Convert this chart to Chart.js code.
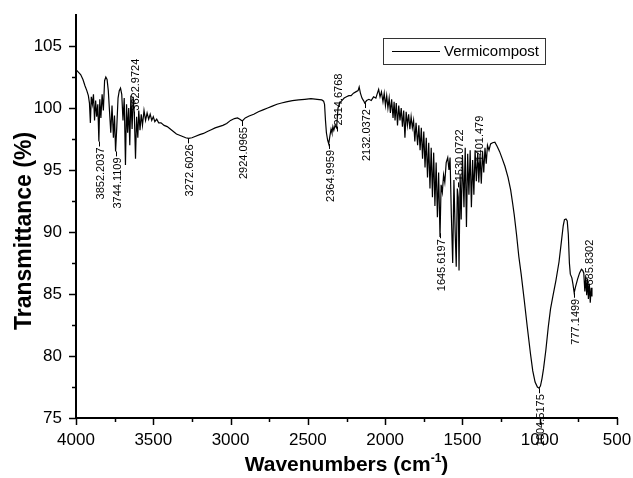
<!DOCTYPE html>
<html>
<head>
<meta charset="utf-8">
<script src="https://cdn.jsdelivr.net/npm/chart.js@4/dist/chart.umd.min.js"></script>
<style>
html, body { margin: 0; padding: 0; background: #fff; }
</style>
</head>
<body>
<canvas id="ftir_chart" width="633" height="478"></canvas>
<script>
// spectrum (wavenumber cm-1 / transmittance %)
const wavenumbers = [
    4000, 3985, 3970, 3955, 3942, 3930, 3920, 3913, 3907, 3901, 3894, 3887, 3880, 3873, 3866, 3859,
    3852, 3846, 3839, 3831, 3823, 3815, 3807, 3799, 3791, 3783, 3775, 3767, 3758, 3751, 3744, 3736,
    3728, 3720, 3712, 3704, 3696, 3688, 3680, 3673, 3666, 3659, 3652, 3645, 3637, 3630, 3623, 3615,
    3608, 3600, 3594, 3586, 3578, 3570, 3560, 3550, 3540, 3530, 3520, 3510, 3500, 3490, 3478, 3465,
    3450, 3430, 3410, 3390, 3370, 3350, 3330, 3310, 3290, 3272, 3250, 3230, 3200, 3175, 3150, 3125,
    3100, 3075, 3050, 3025, 3000, 2975, 2955, 2940, 2924, 2905, 2880, 2850, 2820, 2790, 2760, 2730,
    2700, 2670, 2640, 2600, 2560, 2520, 2480, 2440, 2410, 2398, 2392, 2386, 2380, 2372, 2365, 2358,
    2350, 2344, 2338, 2332, 2324, 2314, 2305, 2295, 2280, 2265, 2250, 2235, 2220, 2205, 2190, 2175,
    2168, 2160, 2150, 2140, 2132, 2120, 2105, 2090, 2075, 2060, 2050, 2042, 2033, 2024, 2014, 2006,
    1998, 1990, 1982, 1974, 1966, 1958, 1949, 1942, 1936, 1928, 1920, 1912, 1904, 1896, 1888, 1880,
    1872, 1864, 1856, 1848, 1840, 1832, 1824, 1816, 1808, 1800, 1790, 1782, 1774, 1766, 1758, 1750,
    1742, 1734, 1726, 1718, 1710, 1702, 1694, 1686, 1678, 1670, 1662, 1654, 1645, 1638, 1630, 1622,
    1614, 1605, 1595, 1587, 1580, 1572, 1563, 1555, 1547, 1540, 1533, 1527, 1522, 1515, 1508, 1500,
    1490, 1482, 1474, 1466, 1458, 1450, 1442, 1434, 1426, 1418, 1410, 1401, 1394, 1386, 1378, 1370,
    1362, 1354, 1346, 1338, 1328, 1318, 1305, 1290, 1275, 1260, 1245, 1225, 1205, 1188, 1175, 1165,
    1150, 1135, 1120, 1100, 1080, 1060, 1045, 1030, 1015, 1004, 995, 985, 975, 960, 945, 930,
    915, 895, 875, 860, 848, 840, 830, 822, 815, 808, 802, 792, 785, 777, 768, 755,
    742, 730, 722, 715, 708, 702, 696, 690, 685, 679, 673, 667, 662
];
const transmittance = [
    103.1, 102.9, 102.7, 102.3, 101.8, 101.4, 101.0, 100.4, 98.8, 100.9, 100.3, 101.1, 99.0, 100.6, 99.3, 100.3,
    97.3, 100.7, 99.2, 101.1, 99.8, 102.2, 102.5, 102.3, 101.4, 99.7, 98.0, 100.2, 97.6, 99.4, 96.5, 98.5,
    100.8, 101.4, 101.6, 101.1, 99.0, 100.8, 95.4, 100.3, 98.0, 100.0, 97.0, 101.0, 98.3, 100.9, 99.6, 95.9,
    99.3, 97.6, 99.8, 98.2, 99.5, 98.6, 99.8, 99.0, 99.6, 99.1, 99.5, 99.0, 99.3, 98.9, 99.1, 98.8,
    98.8, 98.6, 98.5, 98.3, 98.1, 97.9, 97.8, 97.7, 97.6, 97.55, 97.6, 97.7, 97.85, 97.95, 98.1, 98.25,
    98.4, 98.5, 98.6, 98.75, 99.0, 99.15, 99.2, 99.1, 98.95, 99.2, 99.35, 99.5, 99.7, 99.85, 100.0, 100.15,
    100.3, 100.4, 100.5, 100.6, 100.65, 100.7, 100.75, 100.7, 100.65, 100.55, 100.3, 99.0, 98.0, 97.4, 97.1, 97.7,
    98.3, 98.0, 98.5, 98.2, 98.6, 98.4, 100.0, 100.4, 100.6, 100.8, 100.9, 101.0, 101.0, 101.2, 101.3, 101.4,
    101.7, 101.2, 100.8, 100.6, 100.4, 100.6, 100.7, 100.6, 100.9, 100.8, 101.2, 101.5, 100.9, 101.3, 100.5, 101.2,
    100.2, 101.0, 100.0, 100.8, 99.6, 100.7, 99.2, 100.5, 99.0, 100.4, 98.6, 100.2, 99.0, 100.0, 98.5, 99.8,
    97.6, 99.7, 98.6, 99.5, 98.3, 99.3, 98.4, 99.0, 97.3, 98.8, 97.0, 98.6, 96.6, 98.4, 95.9, 98.1,
    95.2, 97.6, 94.4, 97.2, 93.5, 96.8, 92.8, 96.4, 92.1, 95.6, 91.2, 94.8, 89.6, 93.8, 93.2, 94.6,
    94.0, 95.6, 96.0, 95.0, 96.0, 91.5, 87.5, 94.2, 90.0, 87.2, 93.5, 92.8, 86.9, 94.7, 91.0, 96.2,
    92.0, 96.8, 90.4, 96.3, 93.0, 96.6, 92.0, 95.8, 93.0, 96.6, 94.1, 96.4, 94.0, 96.2, 93.9, 96.5,
    94.8, 96.8, 95.5, 97.0, 96.6, 97.1, 97.2, 97.25, 96.9, 96.5, 96.0, 95.3, 94.4, 93.4, 92.3, 91.4,
    89.8, 88.0, 86.6, 84.5, 82.3, 80.2, 78.8, 77.9, 77.5, 77.4, 77.6, 78.2, 79.0, 80.5, 82.3, 83.8,
    84.8, 86.1, 87.6, 89.2, 90.5, 91.0, 91.05, 90.9, 89.8, 87.5, 86.6, 86.3, 85.8, 85.1, 85.6, 86.2,
    86.7, 87.0, 86.9, 86.7, 85.2, 86.4, 84.9, 86.2, 84.6, 85.8, 84.3, 85.5, 84.8
];

// peak labels
const peakWavenumbers = [3852.2037, 3744.1109, 3622.9724, 3272.6026, 2924.0965, 2364.9959, 2314.6768,
    2132.0372, 1645.6197, 1530.0722, 1401.479, 1004.5175, 777.1499, 685.8302];
const peakValues = [97.3, 96.5, 99.3, 97.55, 98.95, 97.1, 98.1, 100.4, 89.9, 93.6, 95.2, 77.4, 85.1, 85.2];
const peakLabels = ['3852.2037', '3744.1109', '3622.9724', '3272.6026', '2924.0965', '2364.9959', '2314.6768',
    '2132.0372', '1645.6197', '1530.0722', '1401.479', '1004.5175', '777.1499', '685.8302'];
const peakSides = ['down', 'down', 'up', 'down', 'down', 'down', 'up',
    'down', 'down', 'up', 'up', 'down', 'down', 'up'];

const seriesName = 'Vermicompost';
const xTitle = 'Wavenumbers (cm';
const xTitleSup = '-1';
const yTitle = 'Transmittance (%)';

const FONT = '"Liberation Sans", Arial, Helvetica, sans-serif';

// ticks, titles, peak labels and the boxed legend
const decorPlugin = {
    id: 'decor',
    afterDraw(chart) {
        const { ctx, chartArea, scales: { x, y } } = chart;
        ctx.save();
        ctx.strokeStyle = '#000';
        ctx.fillStyle = '#000';
        ctx.lineWidth = 1.5;

        // tick marks, outward
        x.ticks.forEach(t => {
            const px = Math.round(x.getPixelForValue(t.value)) + 0.5;
            const len = t.value % 500 === 0 ? 7 : 4;
            ctx.beginPath();
            ctx.moveTo(px, chartArea.bottom);
            ctx.lineTo(px, chartArea.bottom + len);
            ctx.stroke();
        });
        y.ticks.forEach(t => {
            if (t.value >= y.max) return;
            const py = Math.round(y.getPixelForValue(t.value)) + 0.5;
            const len = t.value % 5 === 0 ? 7 : 4;
            ctx.beginPath();
            ctx.moveTo(chartArea.left, py);
            ctx.lineTo(chartArea.left - len, py);
            ctx.stroke();
        });

        // peak labels
        ctx.lineWidth = 1;
        ctx.font = '11px ' + FONT;
        peakWavenumbers.forEach((wn, i) => {
            const px = Math.round(x.getPixelForValue(wn)) + 0.5;
            const py = y.getPixelForValue(peakValues[i]);
            const up = peakSides[i] === 'up';
            ctx.beginPath();
            ctx.moveTo(px, py);
            ctx.lineTo(px, up ? py - 5 : py + 5);
            ctx.stroke();
            ctx.save();
            ctx.translate(px, up ? py - 6 : py + 6);
            ctx.rotate(-Math.PI / 2);
            ctx.textBaseline = 'middle';
            ctx.textAlign = up ? 'left' : 'right';
            ctx.fillText(peakLabels[i], 0, 1);
            ctx.restore();
        });

        // y title
        ctx.save();
        ctx.translate(25, 231);
        ctx.rotate(-Math.PI / 2);
        ctx.font = 'bold 23px ' + FONT;
        ctx.textAlign = 'center';
        ctx.textBaseline = 'middle';
        ctx.fillText(yTitle, 0, 0);
        ctx.restore();

        // x title with superscript
        ctx.font = 'bold 21px ' + FONT;
        const w1 = ctx.measureText(xTitle).width;
        const w3 = ctx.measureText(')').width;
        ctx.font = 'bold 12px ' + FONT;
        const w2 = ctx.measureText(xTitleSup).width;
        const cx = (chartArea.left + chartArea.right) / 2;
        let tx = cx - (w1 + w2 + w3) / 2;
        const ty = 471;
        ctx.textAlign = 'left';
        ctx.textBaseline = 'alphabetic';
        ctx.font = 'bold 21px ' + FONT;
        ctx.fillText(xTitle, tx, ty);
        ctx.font = 'bold 12px ' + FONT;
        ctx.fillText(xTitleSup, tx + w1, ty - 9);
        ctx.font = 'bold 21px ' + FONT;
        ctx.fillText(')', tx + w1 + w2, ty);

        // legend box
        ctx.lineWidth = 1;
        ctx.strokeStyle = '#333';
        ctx.strokeRect(383.5, 38.5, 162, 26);
        ctx.strokeStyle = '#000';
        ctx.beginPath();
        ctx.moveTo(392, 51.5);
        ctx.lineTo(440, 51.5);
        ctx.stroke();
        ctx.font = '15px ' + FONT;
        ctx.textBaseline = 'middle';
        ctx.fillText(seriesName, 444, 52);
        ctx.restore();
    }
};

const renderChart = () => {
    const points = wavenumbers.map((wn, i) => ({ x: wn, y: transmittance[i] }));
    new Chart(document.getElementById('ftir_chart'), {
        type: 'line',
        data: {
            datasets: [{
                label: seriesName,
                data: points,
                borderColor: '#000',
                borderWidth: 1.2,
                pointRadius: 0,
                tension: 0,
                fill: false
            }]
        },
        options: {
            responsive: false,
            animation: false,
            devicePixelRatio: 1,
            layout: { padding: { top: 15, right: 16, left: 0, bottom: 0 } },
            plugins: {
                legend: { display: false },
                tooltip: { enabled: false }
            },
            scales: {
                x: {
                    type: 'linear',
                    reverse: true,
                    min: 500,
                    max: 4000,
                    grid: { display: false, drawTicks: false },
                    border: { display: true, color: '#000', width: 2 },
                    ticks: {
                        stepSize: 250,
                        autoSkip: false,
                        maxRotation: 0,
                        padding: 12,
                        color: '#000',
                        font: { family: FONT, size: 17 },
                        callback: v => (v % 500 === 0 ? v : '')
                    },
                    afterFit: s => {
                        s.height = 60;
                        s.paddingLeft = 0;
                        s.paddingRight = 0;
                    }
                },
                y: {
                    min: 75,
                    max: 107.5,
                    grid: { display: false, drawTicks: false },
                    border: { display: true, color: '#000', width: 2 },
                    ticks: {
                        stepSize: 2.5,
                        autoSkip: false,
                        padding: 14,
                        color: '#000',
                        font: { family: FONT, size: 17 },
                        callback: v => (v % 5 === 0 ? v : '')
                    },
                    afterFit: s => {
                        s.width = 76;
                        s.paddingTop = 0;
                        s.paddingBottom = 0;
                    }
                }
            }
        },
        plugins: [decorPlugin]
    });
};

renderChart();
</script>
</body>
</html>
